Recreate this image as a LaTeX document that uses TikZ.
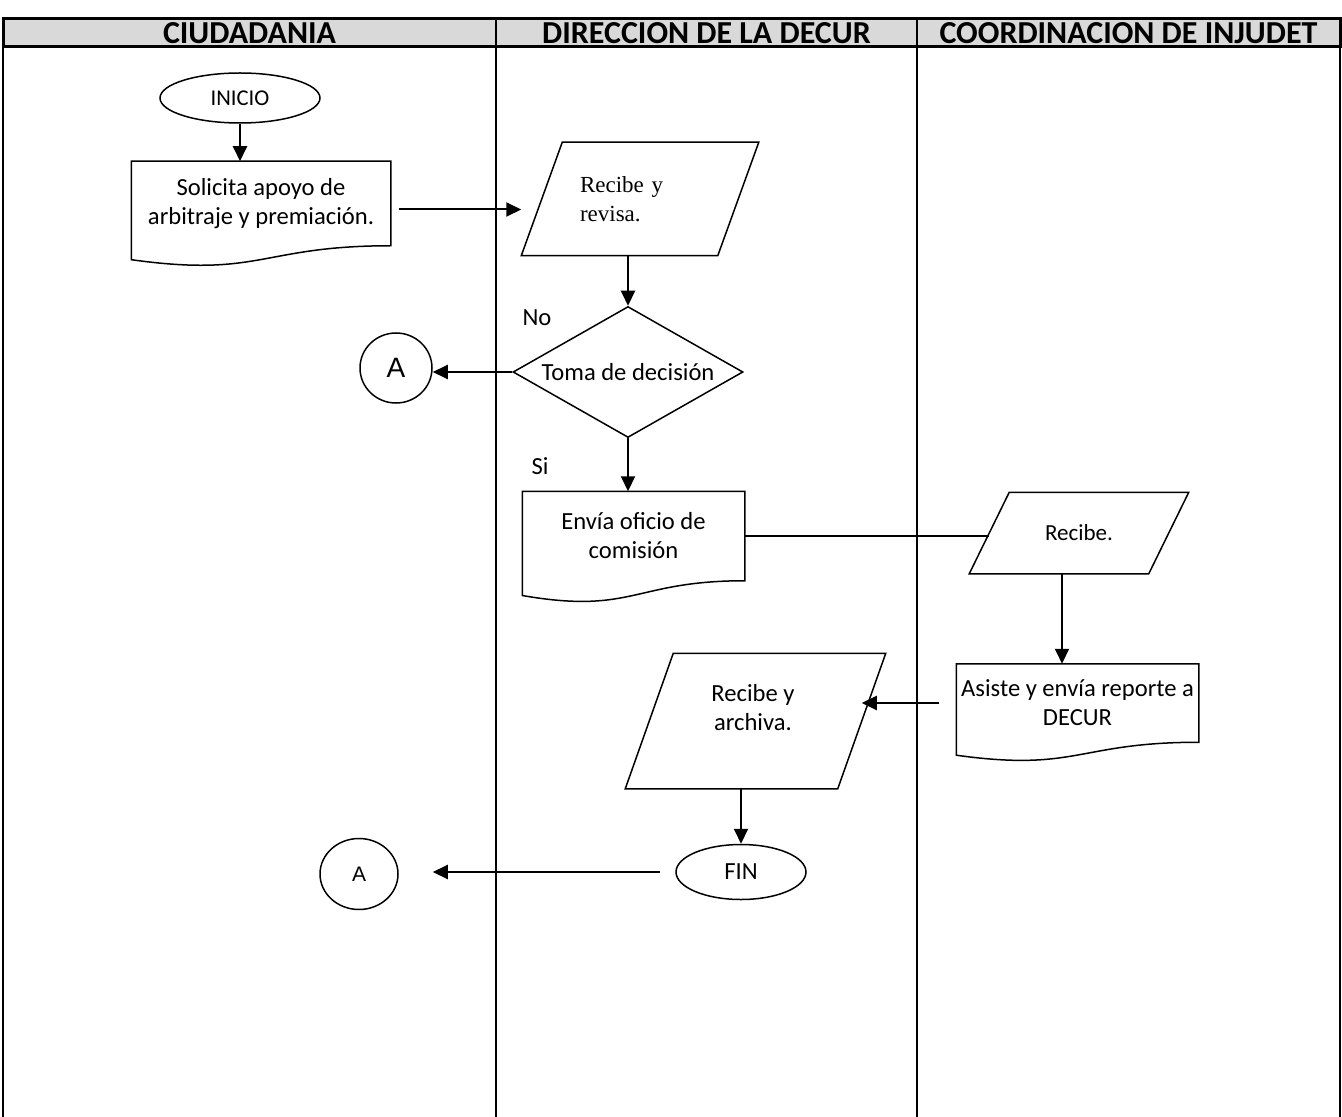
\documentclass[tikz,border=0pt]{standalone}
\usepackage{fontspec}
\setmainfont{Carlito}
\newfontfamily\cambfont{Liberation Serif}
\newfontfamily\arialfont{Liberation Sans}
\usepackage{tikz}
\usetikzlibrary{positioning}
\usetikzlibrary{calc}
\usetikzlibrary{shapes.geometric}
\usetikzlibrary{arrows.meta}

% document outline round an invisible box %
\newcommand{\docshape}[1]{\draw (#1.north west) -- (#1.north east) -- (#1.south east) .. controls (#1.south) and ($(#1.north)!1.38!(#1.south)$) .. ($(#1.north west)!1.165!(#1.south west)$) -- cycle;}
% parallelogram round an invisible box, with its side mid points %
\newcommand{\paral}[2]{\draw ([xshift=#2]#1.north west) -- (#1.north east) -- ([xshift=-#2]#1.south east) -- (#1.south west) -- cycle;
	\coordinate (#1-w) at ([xshift=#2/2]#1.west);
	\coordinate (#1-e) at ([xshift=-#2/2]#1.east);}

\begin{document}
\begin{tikzpicture}[x=0.5pt,y=-0.5pt,line width=0.75pt,
	every node/.style={font=\fontsize{12.3}{14.5}\selectfont},
	arr/.style={line width=1pt,-{Triangle[length=7.5pt,width=7pt]}},
	box/.style={rectangle,inner sep=0pt,align=center},
	term/.style={ellipse,draw,inner sep=0pt},
	head/.style={font=\fontsize{16}{18}\selectfont\bfseries}]
	\useasboundingbox (0,0) rectangle (1342,1117);
	% Lanes %
	\filldraw [fill=black!15,line width=1.5pt] (3,19) rectangle (1340,47);
	\draw [line width=1.1pt] (3,47) -- (3,1117);
	\draw [line width=1.1pt] (1340,47) -- (1340,1117);
	\draw [line width=1.1pt] (496,19) -- (496,1117);
	\draw [line width=1.1pt] (917,19) -- (917,1117);
	\node (h1) [head] at (249.5,33) {CIUDADANIA};
	\node (h2) [head] at (706.5,33) {DIRECCION DE LA DECUR};
	\node (h3) [head] at (1128.5,33) {COORDINACION DE INJUDET};
	% Ciudadania %
	\node (inicio) [term,minimum width=80pt,minimum height=25pt,font=\fontsize{11.3}{13}\selectfont] at (240,98) {INICIO};
	\node (sol) [box,minimum width=129pt,minimum height=41.5pt] at (261,203.5) {Solicita apoyo de\\arbitraje y premiación.};
	\docshape{sol}
	\node (ca) [term,minimum width=36pt,minimum height=35pt,font=\arialfont\fontsize{14}{16}\selectfont] at (396,368) {A};
	\node (cb) [term,minimum width=39pt,minimum height=35.5pt,font=\arialfont\fontsize{10.5}{14}\selectfont] at (359,874) {A};
	% Direccion de la DECUR %
	\node (rev) [box,minimum width=118pt,minimum height=56pt,text width=60pt,align=left,font=\cambfont\fontsize{11.5}{14.5}\selectfont] at (640,199) {Recibe y\\revisa.};
	\paral{rev}{20.5pt}
	\node (dec) [diamond,draw,aspect=1.756,minimum width=115pt,minimum height=65.5pt,inner sep=0pt] at (628,372) {Toma de decisión};
	\node (no) at (537,318) {No};
	\node (si) at (540,466) {Si};
	\node (env) [box,minimum width=110.5pt,minimum height=44pt] at (633.5,536) {Envía oficio de\\comisión};
	\docshape{env}
	\node (arc) [box,minimum width=129.5pt,minimum height=67pt] at (755.5,721) {};
	\paral{arc}{24pt}
	\node (arctext) [align=center] at (753,708) {Recibe y\\archiva.};
	\node (fin) [term,minimum width=65pt,minimum height=27.5pt] at (741,872) {FIN};
	% Coordinacion de INJUDET %
	\node (rec) [box,minimum width=109pt,minimum height=40pt,font=\fontsize{11.5}{14}\selectfont] at (1079,533) {Recibe.};
	\paral{rec}{20pt}
	\node (asi) [box,minimum width=120.5pt,minimum height=38.5pt] at (1077.5,703) {Asiste y envía reporte a\\DECUR};
	\docshape{asi}
	% Connectors %
	\draw [arr] (inicio) -- (inicio |- sol.north);
	\draw [arr] ([xshift=4pt,yshift=-3pt]sol.east) -- ([yshift=-3pt]sol.east -| rev.west);
	\draw [arr] (dec.north |- rev.south) -- (dec.north);
	\draw [arr] (dec.west) -- (dec.west -| ca.east);
	\draw [arr] (dec.south) -- (dec.south |- env.north);
	\draw [line width=1pt] (env.east) -- (env.east -| rec-w);
	\draw [arr] ([xshift=-8.5pt]rec.south) -- ([xshift=-8.5pt]rec.south |- asi.north);
	\draw [arr] ([xshift=-8.5pt]asi.west) -- (asi.west -| arc-e);
	\draw [arr] (fin.north |- arc.south) -- (fin.north);
	\draw [arr] ([xshift=-7.5pt]fin.west) -- ([xshift=17pt]fin.west -| cb.east);
\end{tikzpicture}
\end{document}
